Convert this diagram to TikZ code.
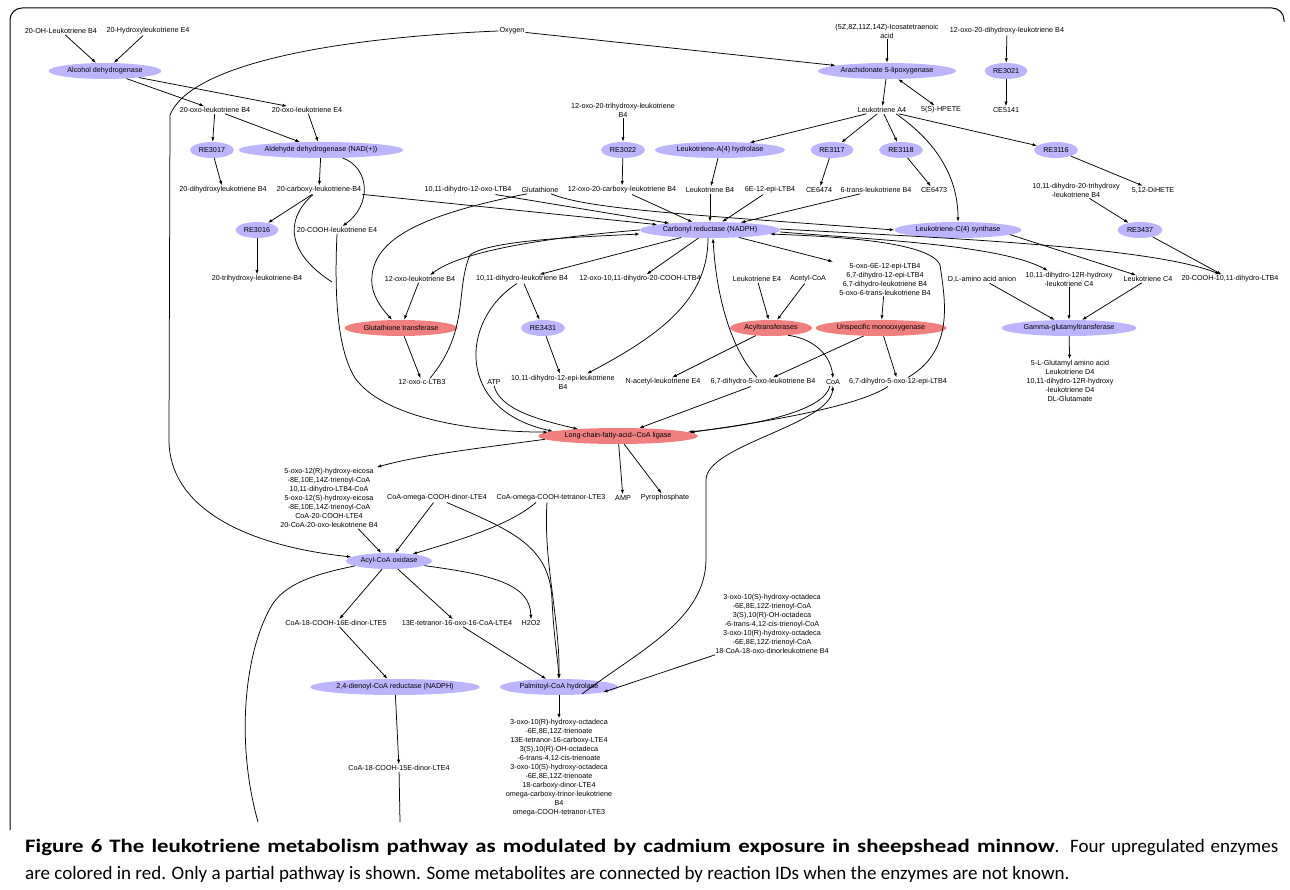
\documentclass[tikz,border=0pt]{standalone}
\usepackage{fontspec}
\setmainfont{Liberation Sans}
\newfontfamily\capfont{Carlito}[BoldFeatures={FakeStretch=1.2}]
\usetikzlibrary{shapes.geometric,arrows.meta}
\definecolor{enzblue}{RGB}{189,180,254}
\definecolor{enzred}{RGB}{240,128,128}
\begin{document}
\begin{tikzpicture}[x=1pt,y=-1pt,
  met/.style={font=\fontsize{7.2}{9}\selectfont, align=center, inner sep=1pt},
  enz/.style={ellipse, fill=enzblue, minimum height=16pt, inner sep=0pt, font=\fontsize{7.2}{9}\selectfont},
  enzr/.style={enz, fill=enzred},
  arr/.style={-{Latex[length=4.5pt,width=3.2pt]}, line width=0.75pt},
  arrb/.style={{Latex[length=4.5pt,width=3.2pt]}-{Latex[length=4.5pt,width=3.2pt]}, line width=0.75pt},
  ln/.style={line width=0.75pt},
  capf/.style={font=\capfont\fontsize{19}{23}\selectfont, inner sep=0pt, anchor=base west}
]
\useasboundingbox (0,0) rectangle (1290,890);
\draw[line width=1pt, rounded corners=12pt] (10,830) -- (10,8) -- (1284,8) -- (1284,22);

% ---- metabolites ----
\node[met] (ohltb4) at (61,31) {20-OH-Leukotriene B4};
\node[met] (hyltE4) at (148,31) {20-Hydroxyleukotriene E4};
\node[met] (oxy) at (512,31) {Oxygen};
\node[met] (icosa) at (887,31) {(5Z,8Z,11Z,14Z)-Icosatetraenoic\\acid};
\node[met] (oxodih) at (1007,31) {12-oxo-20-dihydroxy-leukotriene B4};

\node[met] (oxoB4) at (215,110) {20-oxo-leukotriene B4};
\node[met] (oxoE4) at (307,110) {20-oxo-leukotriene E4};
\node[met] (oxotri) at (623,110) {12-oxo-20-trihydroxy-leukotriene\\B4};
\node[met] (lta4) at (882,110) {Leukotriene A4};
\node[met] (hpete) at (941,110) {5(S)-HPETE};
\node[met] (ce5141) at (1006,110) {CE5141};

\node[met] (dihyB4) at (223,190) {20-dihydroxyleukotriene B4};
\node[met] (carbB4) at (319,190) {20-carboxy-leukotriene-B4};
\node[met] (dhoxo) at (468,190) {10,11-dihydro-12-oxo-LTB4};
\node[met] (gsh) at (540,190) {Glutathione};
\node[met] (oxocarb) at (622,190) {12-oxo-20-carboxy-leukotriene B4};
\node[met] (ltb4) at (710,190) {Leukotriene B4};
\node[met] (epi6e) at (770,190) {6E-12-epi-LTB4};
\node[met] (ce6474) at (819,190) {CE6474};
\node[met] (trans6) at (876,190) {6-trans-leukotriene B4};
\node[met] (ce6473) at (934,190) {CE6473};
\node[met] (dhtri) at (1076,190) {10,11-dihydro-20-trihydroxy\\-leukotriene B4};
\node[met] (dihete) at (1153,190) {5,12-DiHETE};

\node[met] (coohE4) at (337,230) {20-COOH-leukotriene E4};

\node[met] (trihyB4) at (257,279) {20-trihydroxy-leukotriene-B4};
\node[met] (oxoltb4) at (420,279) {12-oxo-leukotriene B4};
\node[met] (dhltb4) at (522,279) {10,11-dihydro-leukotriene B4};
\node[met] (oxodhcooh) at (640,279) {12-oxo-10,11-dihydro-20-COOH-LTB4};
\node[met] (lte4) at (757,279) {Leukotriene E4};
\node[met] (acoa) at (808,279) {Acetyl-CoA};
\node[met] (oxogrp) at (885,279) {5-oxo-6E-12-epi-LTB4\\6,7-dihydro-12-epi-LTB4\\6,7-dihydro-leukotriene B4\\5-oxo-6-trans-leukotriene B4};
\node[met] (dlaa) at (982,279) {D,L-amino acid anion};
\node[met] (dh12r) at (1069,279) {10,11-dihydro-12R-hydroxy\\-leukotriene C4};
\node[met] (ltc4) at (1148,279) {Leukotriene C4};
\node[met] (cooh1011) at (1230,279) {20-COOH-10,11-dihydro-LTB4};

\node[met] (oxoc) at (422,382) {12-oxo-c-LTB3};
\node[met] (atp) at (494,382) {ATP};
\node[met] (dhepi) at (563,382) {10,11-dihydro-12-epi-leukotriene\\B4};
\node[met] (nacet) at (663,382) {N-acetyl-leukotriene E4};
\node[met] (dh5oxo) at (763,382) {6,7-dihydro-5-oxo-leukotriene B4};
\node[met] (coa) at (833,382) {CoA};
\node[met] (dh5oxoepi) at (898,382) {6,7-dihydro-5-oxo-12-epi-LTB4};
\node[met] (ggtout) at (1070,381) {5-L-Glutamyl amino acid\\Leukotriene D4\\10,11-dihydro-12R-hydroxy\\-leukotriene D4\\DL-Glutamate};

\node[met] (oxo12grp) at (329,498) {5-oxo-12(R)-hydroxy-eicosa\\-8E,10E,14Z-trienoyl-CoA\\10,11-dihydro-LTB4-CoA\\5-oxo-12(S)-hydroxy-eicosa\\-8E,10E,14Z-trienoyl-CoA\\CoA-20-COOH-LTE4\\20-CoA-20-oxo-leukotriene B4};
\node[met] (cdinor) at (437,498) {CoA-omega-COOH-dinor-LTE4};
\node[met] (ctetra) at (551,498) {CoA-omega-COOH-tetranor-LTE3};
\node[met] (amp) at (623,498) {AMP};
\node[met] (ppi) at (665,498) {Pyrophosphate};

\node[met] (c18) at (336,623) {CoA-18-COOH-16E-dinor-LTE5};
\node[met] (tetra13) at (457,623) {13E-tetranor-16-oxo-16-CoA-LTE4};
\node[met] (h2o2) at (531,623) {H2O2};
\node[met] (oxo3grp) at (772,624) {3-oxo-10(S)-hydroxy-octadeca\\-6E,8E,12Z-trienoyl-CoA\\3(S),10(R)-OH-octadeca\\-6-trans-4,12-cis-trienoyl-CoA\\3-oxo-10(R)-hydroxy-octadeca\\-6E,8E,12Z-trienoyl-CoA\\18-CoA-18-oxo-dinorleukotriene B4};

\node[met] (c1815) at (399,768) {CoA-18-COOH-15E-dinor-LTE4};
\node[met] (pchout) at (559,768) {3-oxo-10(R)-hydroxy-octadeca\\-6E,8E,12Z-trienoate\\13E-tetranor-16-carboxy-LTE4\\3(S),10(R)-OH-octadeca\\-6-trans-4,12-cis-trienoate\\3-oxo-10(S)-hydroxy-octadeca\\-6E,8E,12Z-trienoate\\18-carboxy-dinor-LTE4\\omega-carboxy-trinor-leukotriene\\B4\\omega-COOH-tetranor-LTE3};

\coordinate (endA) at (258,822);
\coordinate (endB) at (400,822);

% ---- enzymes ----
\node[enz, minimum width=113] (adh) at (105,71) {Alcohol dehydrogenase};
\node[enz, minimum width=138] (alox) at (887,71) {Arachidonate 5-lipoxygenase};
\node[enz, minimum width=43] (re3021) at (1006,71) {RE3021};
\node[enz, minimum width=44] (re3017) at (212,150) {RE3017};
\node[enz, minimum width=165] (aldh) at (321,150) {Aldehyde dehydrogenase (NAD(+))};
\node[enz, minimum width=44] (re3022) at (623,150) {RE3022};
\node[enz, minimum width=130] (lta4h) at (720,150) {Leukotriene-A(4) hydrolase};
\node[enz, minimum width=43] (re3117) at (832,150) {RE3117};
\node[enz, minimum width=44] (re3118) at (901,150) {RE3118};
\node[enz, minimum width=44] (re3116) at (1056,150) {RE3116};
\node[enz, minimum width=43] (re3016) at (257,230) {RE3016};
\node[enz, minimum width=140] (cbr) at (710,230) {Carbonyl reductase (NADPH)};
\node[enz, minimum width=127] (ltc4s) at (958,230) {Leukotriene-C(4) synthase};
\node[enz, minimum width=45] (re3437) at (1140,230) {RE3437};
\node[enzr, minimum width=113] (gst) at (401,328) {Glutathione transferase};
\node[enz, minimum width=44] (re3431) at (543,328) {RE3431};
\node[enzr, minimum width=82] (acyl) at (771,328) {Acyltransferases};
\node[enzr, minimum width=131] (umo) at (881,328) {Unspecific monooxygenase};
\node[enz, minimum width=135] (ggt) at (1069,328) {Gamma-glutamyltransferase};
\node[enzr, minimum width=160] (lcfa) at (618,436) {Long-chain-fatty-acid-{}-CoA ligase};
\node[enz, minimum width=86] (acox) at (389,561) {Acyl-CoA oxidase};
\node[enz, minimum width=170] (decr) at (395,687) {2,4-dienoyl-CoA reductase (NADPH)};
\node[enz, minimum width=118] (pch) at (559,687) {Palmitoyl-CoA hydrolase};

% ---- straight connectors ----
\draw[arr] (ohltb4) -- (adh);
\draw[arr] (hyltE4) -- (adh);
\draw[arr] (adh) -- (oxoB4);
\draw[arr] (adh) -- (oxoE4);
\draw[arr] (oxy) -- (alox);
\draw[arr] (icosa) -- (alox);
\draw[arr] (alox) -- (lta4);
\draw[arrb] (alox) -- (hpete);
\draw[arr] (oxodih) -- (re3021);
\draw[arr] (re3021) -- (ce5141);
\draw[arr] (oxoB4) -- (re3017);
\draw[arr] (oxoB4) -- (aldh);
\draw[arr] (oxoE4) -- (aldh);
\draw[arr] (re3017) -- (dihyB4);
\draw[arr] (aldh) -- (carbB4);
\draw[arr] (carbB4) -- (re3016);
\draw[arr] (re3016) -- (trihyB4);
\draw[arr] (oxotri) -- (re3022);
\draw[arr] (re3022) -- (oxocarb);
\draw[arr] (lta4) -- (lta4h);
\draw[arr] (lta4) -- (re3117);
\draw[arr] (lta4) -- (re3118);
\draw[arr] (lta4) -- (re3116);
\draw[arr] (lta4h) -- (ltb4);
\draw[arr] (re3117) -- (ce6474);
\draw[arr] (re3118) -- (ce6473);
\draw[arr] (re3116) -- (dihete);
\draw[arr] (dhtri) -- (re3437);
\draw[arr] (re3437) -- (cooh1011);
\draw[arr] (carbB4) -- (cbr);
\draw[arr] (dhoxo) -- (cbr);
\draw[arr] (oxocarb) -- (cbr);
\draw[arr] (ltb4) -- (cbr);
\draw[arr] (epi6e) -- (cbr);
\draw[arr] (trans6) -- (cbr);
\draw[arr] (cbr) -- (dhltb4);
\draw[arr] (cbr) -- (oxodhcooh);
\draw[arr] (cbr) -- ([xshift=-52]oxogrp.north);
\draw[arr] ([xshift=52,yshift=-4.6]ltc4s.center) -- (ltc4);
\draw[arr] (dlaa) -- (ggt);
\draw[arr] (dh12r) -- (ggt);
\draw[arr] (ltc4) -- (ggt);
\draw[arr] (ggt) -- (ggtout);
\draw[arr] (oxoltb4) -- (gst);
\draw[arr] (gst) -- (oxoc);
\draw[arr] (dhltb4) -- (re3431);
\draw[arr] (re3431) -- (dhepi);
\draw[arr] (lte4) -- (acyl);
\draw[arr] (acoa) -- (acyl);
\draw[arr] (oxogrp) -- (umo);
\draw[arr] (acyl) -- (nacet);
\draw[arr] (umo) -- (dh5oxo);
\draw[arr] (umo) -- (dh5oxoepi);
\draw[arr] (dh5oxo) -- (lcfa);
\draw[arr] (lcfa) -- (amp);
\draw[arr] (lcfa) -- (ppi);
\draw[arr] (cdinor) -- (acox);
\draw[arr] (oxo12grp) -- (acox);
\draw[arr] (acox) -- (c18);
\draw[arr] (acox) -- (tetra13);
\draw[arr] (c18) -- (decr);
\draw[arr] (tetra13) -- (pch);
\draw[arr] (decr) -- (c1815);
\draw[arr] (pch) -- (pchout);
\draw[ln] (c1815) -- (endB);
\draw[arr] ([xshift=-57]oxo3grp.south) -- ([xshift=44,yshift=-5.3]pch.center);

% ---- curved connectors ----
\draw[arr] (oxy.west) .. controls (330,38) and (190,65) .. (170,115) -- (169,440) .. controls (169,505) and (240,545) .. (acox);
\draw[arr] (aldh) .. controls (370,168) and (372,205) .. (coohE4);
\draw[arr] ([xshift=14]lta4.south) .. controls (948,150) and (958,190) .. (ltc4s.north);
\draw[arr] ([xshift=11]gsh.south) .. controls (590,210) and (700,215) .. (ltc4s.west);
\draw[arr] ([xshift=-13]gsh.south) .. controls (420,215) and (368,240) .. (372,285) .. controls (374,300) and (385,312) .. ([xshift=-9]gst.north);
\draw[arr] (cbr.west) .. controls (540,238) and (460,252) .. ([xshift=10]oxoltb4.north);
\draw[arr] ([xshift=8]oxoc.north) .. controls (470,330) and (455,290) .. (470,255) .. controls (490,240) and (580,237) .. ([yshift=-4]cbr.west);
\draw[arr] ([xshift=-2]cbr.south) .. controls (708,300) and (660,335) .. ([xshift=24]dhepi.north);
\draw[arr] ([xshift=-6]dh5oxo.north) .. controls (728,345) and (716,290) .. ([xshift=3]cbr.south);
\draw[arr] ([xshift=10]dh5oxoepi.north) .. controls (955,350) and (945,300) .. (940,265) .. controls (930,240) and (820,236) .. ([xshift=60,yshift=-4]cbr.center);
\draw[arr] ([yshift=-2]cbr.east) .. controls (880,240) and (1000,245) .. ([xshift=-21]dh12r.north);
\draw[arr] ([yshift=1]cbr.east) .. controls (900,236) and (1150,245) .. ([xshift=-10]cooh1011.north);
\draw[arr] ([xshift=17,yshift=-7.3]acyl.center) .. controls (810,338) and (830,352) .. (coa.north);
\draw[arr] ([xshift=23,yshift=-7]pch.center) .. controls (640,650) and (705,620) .. (706,560) -- (706,480) .. controls (706,445) and (830,425) .. (coa.south);
\draw[arr] ([xshift=-3]coa.south) .. controls (825,410) and (760,425) .. ([xshift=70,yshift=4]lcfa.center);
\draw[arr] ([xshift=-10]dh5oxoepi.south) .. controls (860,405) and (780,420) .. ([xshift=72,yshift=3.6]lcfa.center);
\draw[arr] (atp.south) .. controls (500,410) and (540,420) .. ([xshift=-40,yshift=6.9]lcfa.center);
\draw[arr] ([xshift=-5]dhltb4.south) .. controls (460,320) and (455,410) .. ([xshift=-65,yshift=4.7]lcfa.center);
\draw[arr] (coohE4.south) .. controls (334,300) and (338,350) .. (355,378) .. controls (385,420) and (480,432) .. ([xshift=-70,yshift=3.9]lcfa.center);
\draw[ln] ([xshift=-6]carbB4.south) .. controls (282,222) and (290,255) .. (332,282);
\draw[arr] ([xshift=-73,yshift=-3.3]lcfa.center) .. controls (480,448) and (420,455) .. ([xshift=-2]oxo12grp.north east);
\draw[arr] ([xshift=-15]ctetra.south) .. controls (510,525) and (460,540) .. (acox);
\draw[arr] ([xshift=-4]ctetra.south) .. controls (543,560) and (560,620) .. (pch.north);
\draw[arr] ([xshift=10]cdinor.south) .. controls (510,530) and (550,545) .. (552,600) .. controls (554,640) and (558,660) .. (pch.north);
\draw[arr] (acox) .. controls (495,575) and (530,585) .. (h2o2.north);
\draw[ln] ([xshift=-34,yshift=-4.9]acox.center) .. controls (310,575) and (285,585) .. (272,605) .. controls (245,650) and (235,740) .. (endA);

% ---- caption ----
\node[capf] (cap1) at (25,852) {\makebox[1253pt][s]{\bfseries Figure 6 The leukotriene metabolism pathway as modulated by cadmium exposure in sheepshead minnow\mdseries. Four upregulated enzymes}};
\node[capf] (cap2) at (25,879) {are colored in red. Only a partial pathway is shown. Some metabolites are connected by reaction IDs when the enzymes are not known.};
\end{tikzpicture}
\end{document}
